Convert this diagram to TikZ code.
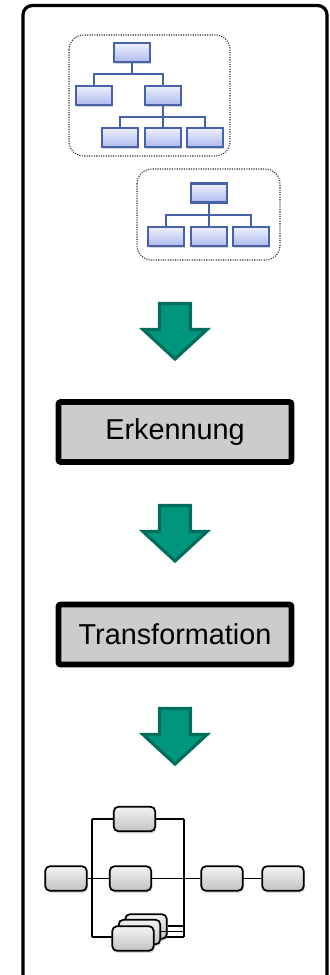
\documentclass[tikz,border=0pt]{standalone}
\usepackage{fontspec}
\setmainfont{Liberation Sans}
\usetikzlibrary{shadows}
\definecolor{treeblue}{HTML}{4862AA}
\definecolor{treetop}{HTML}{EEF1FD}
\definecolor{treebot}{HTML}{AEBAEE}
\definecolor{arrowfill}{HTML}{00967E}
\definecolor{arrowedge}{HTML}{006E5C}
\definecolor{boxgray}{HTML}{CCCCCC}
\definecolor{proctop}{HTML}{F4F4F4}
\definecolor{procbot}{HTML}{C2C2C2}
\begin{document}
\begin{tikzpicture}[x=0.75pt,y=-0.75pt,
  orgbox/.style={draw=treeblue, line width=1.7pt, top color=treetop, bottom color=treebot,
    minimum width=27pt, minimum height=14.25pt, inner sep=0pt,
    drop shadow={shadow xshift=0.8pt, shadow yshift=-1.4pt, opacity=0.35}},
  orgline/.style={draw=treeblue, line width=1.7pt},
  groupbox/.style={draw=black!85, densely dotted, line width=0.8pt, rounded corners=11pt},
  stagebox/.style={draw=black, line width=4.2pt, fill=boxgray, rounded corners=1.5pt,
    minimum width=174.75pt, minimum height=45pt, inner sep=0pt,
    font=\fontsize{21.6}{26}\selectfont},
  procbox/.style={draw=black, line width=1.3pt, rounded corners=3.5pt, top color=proctop, bottom color=procbot,
    minimum width=31.1pt, minimum height=18.4pt, inner sep=0pt,
    drop shadow={shadow xshift=0.8pt, shadow yshift=-1.6pt, opacity=0.3}},
  procline/.style={draw=black, line width=1.3pt},
  blockarrow/.style={fill=arrowfill, draw=arrowedge, line width=2.4pt, miter limit=10}
]
\clip (0,0) rectangle (329,975);
% outer frame
\draw[line width=2.4pt, rounded corners=7pt] (23,5.5) rectangle (327,1000);

% ---- tree 1 ----
\draw[groupbox] (69,35) rectangle (230,156);
\node[orgbox] (a) at (132,52.5) {};
\node[orgbox] (b) at (94,95.5) {};
\node[orgbox] (c) at (163,95.5) {};
\node[orgbox] (d) at (120,137.5) {};
\node[orgbox] (e) at (163,137.5) {};
\node[orgbox] (f) at (205,137.5) {};
\coordinate (abar) at (132,74);
\coordinate (cbar) at (163,117);
\draw[orgline] (a.south) -- (abar);
\draw[orgline] (abar) -| (b.north);
\draw[orgline] (abar) -| (c.north);
\draw[orgline] (c.south) -- (e.north);
\draw[orgline] (cbar) -| (d.north);
\draw[orgline] (cbar) -| (f.north);

% ---- tree 2 ----
\draw[groupbox] (137,169) rectangle (280,260);
\node[orgbox] (g) at (209,193) {};
\node[orgbox] (h) at (166,236.5) {};
\node[orgbox] (i) at (209,236.5) {};
\node[orgbox] (j) at (251,236.5) {};
\coordinate (gbar) at (209,215);
\draw[orgline] (g.south) -- (i.north);
\draw[orgline] (gbar) -| (h.north);
\draw[orgline] (gbar) -| (j.north);

% ---- block arrows ----
\foreach \t in {302,504,707} {
  \draw[blockarrow] (159.5,\t+1.5) -- (190.5,\t+1.5) -- (190.5,\t+27.5) -- (207,\t+27.5)
    -- (175,\t+57) -- (143,\t+27.5) -- (159.5,\t+27.5) -- cycle;
}

% ---- stages ----
\node[stagebox] (erk) at (175,432) {Erkennung};
\node[stagebox] (trf) at (175,634.5) {Transformation};

% ---- process diagram ----
\coordinate (lt) at (92,819);
\coordinate (rt) at (184,819);
\coordinate (lb) at (92,937);
\coordinate (rb) at (184,937);
\coordinate (r1) at (184,926);
\coordinate (r2) at (184,931.5);
\draw[procline] (lt) -- (lb);
\draw[procline] (rt) -- (rb);
\draw[procline] (lt) -- (rt);
\draw[procline] (lb) -- (rb);

\node[procbox] (m3) at (146,926.5) {};
\node[procbox] (m2) at (139.5,932) {};
\node[procbox] (m1) at (133,938.5) {};
\draw[procline] (m3.east |- r1) -- (r1);
\draw[procline] (m2.east |- r2) -- (r2);
\node[procbox] (p) at (134.5,819) {};
\node[procbox] (q) at (66,878.5) {};
\node[procbox] (r) at (130.5,878.5) {};
\node[procbox] (s) at (222,878.5) {};
\node[procbox] (u) at (283,878.5) {};
\draw[procline] (q) -- (r);
\draw[procline] (r) -- (s);
\draw[procline] (s) -- (u);
\end{tikzpicture}
\end{document}
